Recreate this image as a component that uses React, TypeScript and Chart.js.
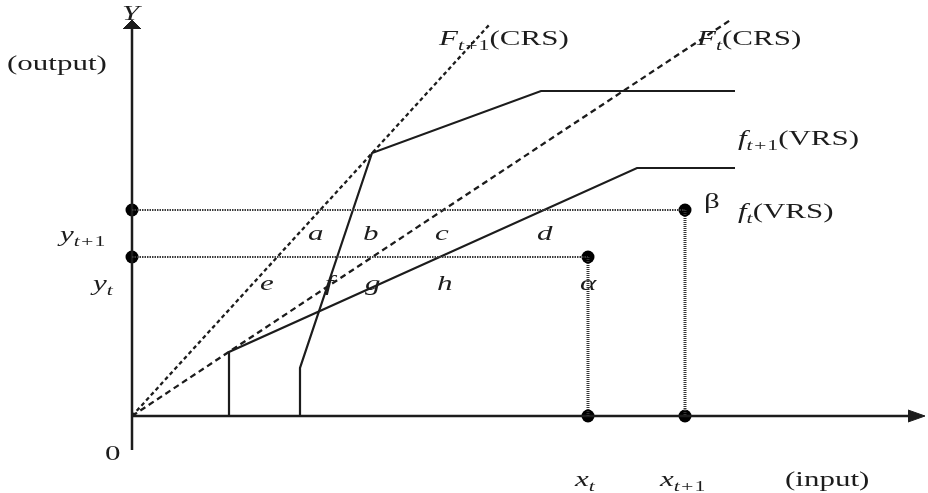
import React, { useEffect, useRef } from "react";
import { Chart, registerables } from "chart.js";

Chart.register(...registerables);

// ---- data (diagram units: input on x, output on y) ----
const xLevels = [45.6, 55.3]; // x_t, x_{t+1}
const yLevels = [15.9, 20.6]; // y_t, y_{t+1}

// f_t (VRS) frontier
const ftVrsX = [9.7, 9.7, 50.5, 60.3];
const ftVrsY = [0, 6.4, 24.8, 24.8];
// f_{t+1} (VRS) frontier
const ft1VrsX = [16.8, 16.8, 24.0, 40.9, 60.3];
const ft1VrsY = [0, 4.8, 26.3, 32.5, 32.5];
// F_t (CRS) ray
const FtCrsX = [0, 60.0];
const FtCrsY = [0, 39.7];
// F_{t+1} (CRS) ray
const Ft1CrsX = [0, 35.8];
const Ft1CrsY = [0, 39.2];

// axes
const xAxisX = [0, 77.8];
const yAxisY = [-3.4, 38.8];

// ---- text annotations ----
type Part = [string, string];
const annotations: { parts: Part[]; x: number; y: number }[] = [
  { parts: [["Y", "i"]], x: -1.0, y: 39.6 },
  { parts: [["(output)", "r"]], x: -12.5, y: 34.6 },
  { parts: [["F", "i"], ["t+", "si"], ["1", "sr"], ["(CRS)", "r"]], x: 30.7, y: 37.1 },
  { parts: [["F", "i"], ["t", "si"], ["(CRS)", "r"]], x: 56.5, y: 37.1 },
  { parts: [["f", "i"], ["t+", "si"], ["1", "sr"], ["(VRS)", "r"]], x: 60.6, y: 27.1 },
  { parts: [["f", "i"], ["t", "si"], ["(VRS)", "r"]], x: 60.6, y: 19.8 },
  { parts: [["β", "r"]], x: 57.2, y: 20.8 },
  { parts: [["y", "i"], ["t+", "si"], ["1", "sr"]], x: -7.2, y: 17.5 },
  { parts: [["y", "i"], ["t", "si"]], x: -3.9, y: 12.6 },
  { parts: [["a", "i"]], x: 17.6, y: 17.6 },
  { parts: [["b", "i"]], x: 23.1, y: 17.6 },
  { parts: [["c", "i"]], x: 30.3, y: 17.6 },
  { parts: [["d", "i"]], x: 40.5, y: 17.6 },
  { parts: [["e", "i"]], x: 12.8, y: 12.6 },
  { parts: [["f", "i"]], x: 19.3, y: 12.6 },
  { parts: [["g", "i"]], x: 23.3, y: 12.6 },
  { parts: [["h", "i"]], x: 30.5, y: 12.6 },
  { parts: [["α", "i"]], x: 44.8, y: 12.6 },
  { parts: [["0", "r"]], x: -2.7, y: -4.4 },
  { parts: [["x", "i"], ["t", "si"]], x: 44.3, y: -7.0 },
  { parts: [["x", "i"], ["t+", "si"], ["1", "sr"]], x: 52.8, y: -7.0 },
  { parts: [["(input)", "r"]], x: 65.3, y: -7.0 },
];

const FONT = '"Liberation Serif", "Times New Roman", serif';
const STRETCH = 1.55;
const INK = "#1c1c1c";

const zip = (xs: number[], ys: number[]) => xs.map((x, i) => ({ x, y: ys[i] }));

const textPlugin = {
  id: "diagramText",
  afterDatasetsDraw(chart: any) {
    const { ctx, scales } = chart;
    const sx = scales.x;
    const sy = scales.y;
    ctx.save();
    ctx.fillStyle = INK;
    ctx.textBaseline = "alphabetic";
    annotations.forEach((a) => {
      const px = sx.getPixelForValue(a.x);
      const py = sy.getPixelForValue(a.y);
      ctx.save();
      ctx.translate(px, py);
      ctx.scale(STRETCH, 1);
      let cx = 0;
      a.parts.forEach(([t, k]) => {
        const sub = k[0] === "s";
        const it = k.includes("i");
        const size = sub ? 14 : 20;
        ctx.font = `${it ? "italic " : ""}${size}px ${FONT}`;
        ctx.fillText(t, cx, sub ? 5 : 0);
        cx += ctx.measureText(t).width;
      });
      ctx.restore();
    });
    ctx.restore();
  },
};

export default function App() {
  const ref = useRef<HTMLCanvasElement | null>(null);

  useEffect(() => {
    document.body.style.margin = "0";
    const canvas = ref.current;
    if (!canvas) return;

    const solid = (data: { x: number; y: number }[], width = 2) => ({
      data,
      showLine: true,
      borderColor: INK,
      backgroundColor: INK,
      borderWidth: width,
      pointRadius: 0,
      fill: false,
      tension: 0,
    });

    const alpha = { x: xLevels[0], y: yLevels[0] };
    const beta = { x: xLevels[1], y: yLevels[1] };

    const chart = new Chart(canvas, {
      type: "scatter",
      data: {
        datasets: [
          // dotted guide lines
          { ...solid([{ x: 0, y: yLevels[0] }, alpha], 2), borderColor: "#3a3a3a", borderDash: [1.5, 1] },
          { ...solid([{ x: 0, y: yLevels[1] }, beta], 2), borderColor: "#3a3a3a", borderDash: [1.5, 1] },
          { ...solid([alpha, { x: xLevels[0], y: 0 }], 3), borderColor: "#333", borderDash: [1, 1] },
          { ...solid([beta, { x: xLevels[1], y: 0 }], 3), borderColor: "#333", borderDash: [1, 1] },
          // axes
          solid(zip([0, 0], yAxisY), 2.5),
          solid(zip(xAxisX, [0, 0]), 2.5),
          // arrow heads
          { ...solid(zip([-0.9, 0, 0.9], [38.7, 39.6, 38.7]), 1), fill: { value: 38.7 } },
          { ...solid(zip([77.6, 79.3], [0.6, 0]), 1), fill: { value: 0 } },
          { ...solid(zip([77.6, 79.3], [-0.6, 0]), 1), fill: { value: 0 } },
          // CRS rays
          { ...solid(zip(Ft1CrsX, Ft1CrsY), 2.3), borderDash: [4, 3] },
          { ...solid(zip(FtCrsX, FtCrsY), 2.3), borderDash: [6, 4] },
          // VRS frontiers
          solid(zip(ftVrsX, ftVrsY), 2.2),
          solid(zip(ft1VrsX, ft1VrsY), 2.2),
          // observations and their projections on the axes
          {
            data: [
              alpha,
              beta,
              { x: 0, y: yLevels[0] },
              { x: 0, y: yLevels[1] },
              { x: xLevels[0], y: 0 },
              { x: xLevels[1], y: 0 },
            ],
            showLine: false,
            pointRadius: 6.5,
            pointBackgroundColor: "#000",
            pointBorderColor: "#000",
            pointBorderWidth: 0,
          },
        ],
      },
      options: {
        animation: false,
        responsive: false,
        devicePixelRatio: 1,
        layout: { padding: 0, autoPadding: false },
        events: [],
        plugins: { legend: { display: false }, tooltip: { enabled: false } },
        scales: {
          x: { type: "linear", min: -13.2, max: 79.6, display: false },
          y: { type: "linear", min: -7.7, max: 41.6, display: false },
        },
      },
      plugins: [textPlugin],
    } as any);

    return () => chart.destroy();
  }, []);

  return (
    <div style={{ width: 928, height: 493, background: "#fff" }}>
      <canvas ref={ref} width={928} height={493} style={{ display: "block" }} />
    </div>
  );
}
